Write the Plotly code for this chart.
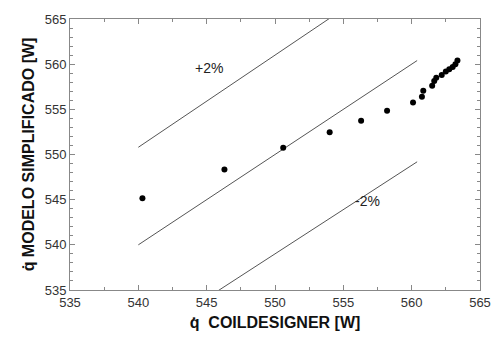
import plotly.graph_objects as go

# Data
x_coil = [540.3, 546.3, 550.6, 554.0, 556.3, 558.2, 560.1, 560.75, 560.85,
          561.5, 561.65, 561.8, 562.2, 562.5, 562.75, 563.0, 563.2, 563.35]
y_model = [545.15, 548.35, 550.75, 552.45, 553.75, 554.85, 555.75, 556.4, 557.05,
           557.6, 558.15, 558.5, 558.8, 559.2, 559.45, 559.7, 560.0, 560.4]

line_x = [540.0, 560.4]
factors = [1.02, 1.0, 0.98]
label_text = ["+2%", "-2%"]
label_x = [545.2, 556.75]
label_y = [559.6, 544.85]

fig = go.Figure()
for f in factors:
    fig.add_trace(go.Scatter(x=line_x, y=[v * f for v in line_x], mode="lines",
                             line=dict(color="#555555", width=1), showlegend=False,
                             hoverinfo="skip"))
fig.add_trace(go.Scatter(x=x_coil, y=y_model, mode="markers",
                         marker=dict(color="black", size=6), showlegend=False))

for t, xx, yy in zip(label_text, label_x, label_y):
    fig.add_annotation(x=xx, y=yy, text=t, showarrow=False,
                       font=dict(family="Liberation Sans, Arial", size=14, color="#222222"))

axis_common = dict(
    showgrid=False, zeroline=False, showline=True, linecolor="#888888", linewidth=1,
    mirror="ticks", ticks="inside", ticklen=5, tickcolor="#888888",
    tickfont=dict(family="Liberation Sans, Arial", size=13, color="#333333"),
)

fig.update_xaxes(range=[535, 565], dtick=5, tick0=535,
                 minor=dict(dtick=2.5, ticks="inside", ticklen=3, tickcolor="#888888"),
                 title=dict(text="<b>q̇  COILDESIGNER [W]</b>", standoff=8,
                            font=dict(family="Liberation Sans, Arial", size=16, color="#111111")),
                 **axis_common)
fig.update_yaxes(range=[535, 565], dtick=5, tick0=535,
                 minor=dict(dtick=1, ticks="inside", ticklen=3, tickcolor="#888888"),
                 title=dict(text="<b>q̇ MODELO SIMPLIFICADO [W]</b>", standoff=6,
                            font=dict(family="Liberation Sans, Arial", size=16, color="#111111")),
                 **axis_common)

fig.update_layout(width=503, height=341, margin=dict(l=70, r=15, t=12, b=49),
                  plot_bgcolor="white", paper_bgcolor="white")
fig.write_html("out.html")
